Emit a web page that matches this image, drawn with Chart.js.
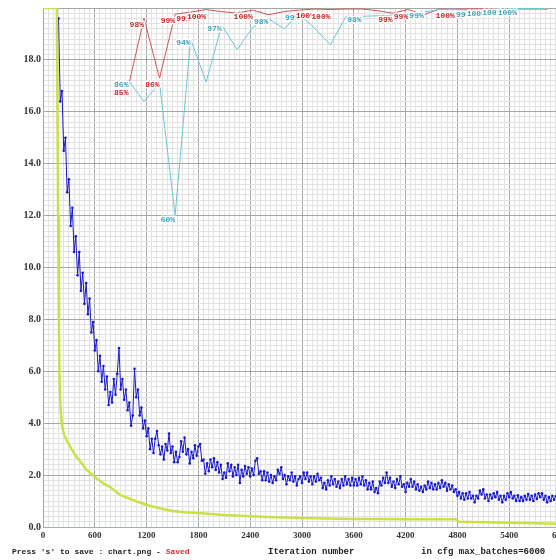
<!DOCTYPE html>
<html>
<head>
<meta charset="utf-8">
<script src="https://cdn.jsdelivr.net/npm/chart.js@4.4.1/dist/chart.umd.min.js"></script>
<style>
  html, body { margin: 0; padding: 0; background: #fff; overflow: hidden; }
  #wrap { width: 556px; height: 560px; overflow: hidden; }
</style>
</head>
<body>
<div id="wrap"><canvas id="chart" width="580" height="560"></canvas></div>
<script>
// loss, one value every 20 iterations from 180
const lossStart = 180;
const lossStep = 20;
const lossValues = [
  19.6, 16.4, 16.8, 14.5, 15.0, 12.9, 13.4, 11.6, 12.3, 10.6,
  11.2, 9.7, 10.6, 9.1, 9.8, 8.6, 9.4, 8.2, 8.8, 7.5,
  7.9, 6.8, 7.2, 6.0, 6.6, 5.6, 6.2, 5.3, 5.8, 4.7,
  5.2, 4.8, 5.7, 5.1, 5.9, 6.9, 5.3, 5.7, 4.9, 5.3,
  4.5, 4.8, 3.9, 4.3, 6.1, 5.0, 5.3, 4.3, 4.6, 3.8,
  4.1, 3.5, 3.8, 3.0, 3.4, 2.85, 3.4, 3.7, 3.15, 2.8,
  3.1, 2.6, 3.2, 2.95, 3.6, 2.85, 3.1, 2.5, 2.9, 2.5,
  2.7, 3.3, 2.9, 3.45, 2.8, 3.0, 2.45, 2.9, 2.65, 3.15,
  2.75, 3.1, 3.2, 2.55, 2.6, 2.05, 2.45, 2.15, 2.6, 2.3,
  2.65, 2.2, 2.5, 2.1, 2.4, 1.85, 2.1, 1.9, 2.45, 2.15,
  2.4, 1.95, 2.3, 2.0, 2.4, 1.7, 2.2, 1.95, 2.35, 2.05,
  2.3, 1.95, 2.25, 2.0, 2.55, 2.65, 2.05, 2.15, 1.8, 2.15,
  1.8, 2.1, 1.75, 2.0, 1.7, 1.95, 1.8, 2.2, 2.05, 2.3,
  1.85, 2.0, 1.65, 1.95, 1.8, 2.1, 1.75, 1.95, 1.6, 1.85,
  1.95, 1.7, 2.1, 1.85, 2.1, 1.75, 1.95, 1.65, 1.95, 1.75,
  2.05, 1.8, 1.9, 1.5, 1.7, 1.45, 1.8, 1.6, 1.95, 1.65,
  1.85, 1.55, 1.75, 1.5, 1.85, 1.6, 1.95, 1.65, 1.85, 1.6,
  1.9, 1.6, 1.85, 1.6, 1.9, 1.65, 1.95, 1.6, 1.8, 1.45,
  1.7, 1.45, 1.75, 1.35, 1.5, 1.3, 1.75, 1.6, 1.9, 1.7,
  2.1, 1.7, 1.9, 1.55, 1.75, 1.5, 1.85, 1.65, 1.95, 1.55,
  1.65, 1.35, 1.7, 1.55, 1.85, 1.55, 1.75, 1.45, 1.65, 1.4,
  1.55, 1.35, 1.6, 1.45, 1.75, 1.5, 1.7, 1.45, 1.65, 1.45,
  1.7, 1.5, 1.8, 1.55, 1.7, 1.4, 1.65, 1.45, 1.6, 1.35,
  1.45, 1.2, 1.35, 1.1, 1.3, 1.05, 1.3, 1.1, 1.35, 1.1,
  1.2, 0.95, 1.2, 1.1, 1.4, 1.25, 1.45, 1.1, 1.25, 1.0,
  1.25, 1.1, 1.3, 1.15, 1.35, 1.05, 1.2, 0.95, 1.2, 1.05,
  1.3, 1.15, 1.35, 1.1, 1.2, 1.0, 1.22, 1.0, 1.15, 1.0,
  1.2, 1.05, 1.27, 1.05, 1.2, 1.0, 1.25, 1.08, 1.3, 1.15,
  1.3, 1.05, 1.2, 0.95, 1.15, 1.0, 1.2, 1.05, 1.18, 1.02
];

// smoothed loss (yellow-green curve)
const avgIter = [0, 160, 175, 185, 192, 205, 220, 245, 273, 330, 389, 450, 504, 600, 700, 773, 888, 1042,
  1200, 1350, 1500, 1650, 1800, 2100, 2400, 2700, 3000, 3300, 3600, 3900, 4200, 4500, 4780, 4820, 5100, 5400, 5700, 6000];
const avgLoss = [20, 20, 12, 7.5, 5.6, 4.5, 3.9, 3.55, 3.35, 3.0, 2.7, 2.45, 2.2, 1.93, 1.68, 1.55, 1.25, 1.04,
  0.85, 0.72, 0.62, 0.57, 0.54, 0.46, 0.41, 0.38, 0.35, 0.33, 0.31, 0.31, 0.3, 0.3, 0.3, 0.2, 0.18, 0.16, 0.14, 0.13];

// accuracy checks (percent)
const mapIter = [990, 1170, 1350, 1530, 1710, 1890, 2070, 2250, 2430, 2610, 2790, 2970, 3150, 3330,
  3510, 3690, 3870, 4050, 4230, 4410, 4590, 4770, 4950, 5130, 5310, 5490, 5670, 5850];
const mapRed = [85, 98, 86.5, 98.8, 99.2, 99.7, 99.3, 99.0, 99.6, 98.7, 99.3, 99.6, 99.8, 99.7,
  99.8, 99.8, 99.5, 99.0, 99.7, 98.7, 99.8, 99.8, 99.8, 99.8, 99.8, 99.8, 99.8, 99.8];
const mapCyan = [86, 82, 85.5, 60, 94, 85.7, 96.7, 92, 96.3, 98, 96, 98.8, 96, 92.9,
  98.4, 98.4, 98.5, 98.6, 98.8, 99.2, 99.7, 99.8, 99.4, 99.7, 99.8, 99.9, 99.9, 99.9];
const redLabels = ["85%", "98%", "86%", "99%", "99%", "100%", "", "", "100%", "", "", "", "100%", "100%",
  "", "", "", "99%", "99%", "", "", "100%", "", "", "", "", "", ""];
const cyanLabels = ["86%", "", "", "60%", "94%", "", "97%", "", "", "98%", "", "99%", "", "",
  "", "98%", "", "", "", "99%", "", "", "99%", "100%", "100%", "100%", "", ""];

const xMajor = 600;
const yMajor = 2;

const lossPoints = lossValues.map((v, i) => ({ x: lossStart + i * lossStep, y: v }));
const avgPoints = avgIter.map((it, i) => ({ x: it, y: avgLoss[i] }));
const redPoints = mapIter.map((it, i) => ({ x: it, y: mapRed[i] }));
const cyanPoints = mapIter.map((it, i) => ({ x: it, y: mapCyan[i] }));

const labelPlugin = {
  id: 'darknetText',
  afterDatasetsDraw(chart) {
    const ctx = chart.ctx;
    const xs = chart.scales.x, ys = chart.scales.yMap;
    ctx.save();
    ctx.font = 'bold 8px "Liberation Mono"';
    ctx.textAlign = 'right';
    ctx.textBaseline = 'middle';
    ctx.lineWidth = 3;
    ctx.lineJoin = 'round';
    ctx.strokeStyle = '#ffffff';
    mapIter.forEach((it, i) => {
      [[redLabels[i], mapRed[i], '#c42424', 7], [cyanLabels[i], mapCyan[i], '#3a9fb8', 4]].forEach(([txt, v, col, dy]) => {
        if (!txt) return;
        const px = xs.getPixelForValue(it);
        const py = ys.getPixelForValue(v) + dy;
        ctx.strokeText(txt, px, py);
        ctx.fillStyle = col;
        ctx.fillText(txt, px, py);
      });
    });
    ctx.restore();
  },
  afterDraw(chart) {
    const ctx = chart.ctx;
    ctx.save();
    ctx.textBaseline = 'middle';
    ctx.textAlign = 'left';
    ctx.font = 'bold 8px "Liberation Mono"';
    ctx.fillStyle = '#222';
    const first = "Press 's' to save : chart.png - ";
    ctx.fillText(first, 12, 552);
    ctx.fillStyle = '#e03030';
    ctx.fillText('Saved', 12 + ctx.measureText(first).width, 552);
    ctx.font = 'bold 9px "Liberation Mono"';
    ctx.fillStyle = '#222';
    ctx.fillText('Iteration number', 268, 552);
    ctx.fillText('in cfg max_batches=6000', 421, 552);
    ctx.restore();
  }
};

new Chart(document.getElementById('chart'), {
  type: 'scatter',
  data: {
    datasets: [
      { label: 'cyan', data: cyanPoints, yAxisID: 'yMap', showLine: true, borderColor: '#6cc6d6', borderWidth: 1, pointRadius: 0 },
      { label: 'red', data: redPoints, yAxisID: 'yMap', showLine: true, borderColor: '#d05454', borderWidth: 1, pointRadius: 0 },
      { label: 'avg', data: avgPoints, yAxisID: 'y', showLine: true, borderColor: 'rgb(204, 224, 70)', borderWidth: 2.5, pointRadius: 0 },
      { label: 'loss', data: lossPoints, yAxisID: 'y', showLine: true, borderColor: 'rgb(24, 24, 204)', backgroundColor: 'rgb(24, 24, 204)', borderWidth: 1, pointRadius: 1.3, pointBorderWidth: 0 }
    ]
  },
  options: {
    responsive: false,
    animation: false,
    layout: { padding: { left: 0, right: 19, top: 8, bottom: 0 } },
    plugins: { legend: { display: false }, tooltip: { enabled: false } },
    scales: {
      x: {
        type: 'linear', min: 0, max: 6000,
        afterFit(scale) { scale.height = 33; },
        border: { color: '#9aaebb' },
        grid: {
          drawTicks: false,
          color: (c) => (c.tick && Math.round(c.tick.value) % xMajor === 0) ? '#a6a6a6' : '#e2e2e2'
        },
        ticks: {
          stepSize: 60, autoSkip: false, maxRotation: 0, padding: 3,
          color: '#333', font: { family: '"Liberation Serif"', size: 9, weight: 'bold' },
          callback: (v) => (Math.round(v) % xMajor === 0 ? String(Math.round(v)) : '')
        }
      },
      y: {
        min: 0, max: 20,
        afterFit(scale) { scale.width = 43; },
        border: { color: '#a6a6a6' },
        grid: {
          drawTicks: false,
          color: (c) => (c.tick && Math.round(c.tick.value * 10) % (yMajor * 10) === 0) ? '#a6a6a6' : '#e2e2e2'
        },
        ticks: {
          stepSize: 0.2, autoSkip: false, padding: 2,
          color: '#333', font: { family: '"Liberation Serif"', size: 10, weight: 'bold' },
          callback: (v) => (Math.round(v * 10) % (yMajor * 10) === 0 && v < 19.9 ? v.toFixed(1) : '')
        }
      },
      yMap: { min: 0, max: 100, display: false }
    }
  },
  plugins: [labelPlugin]
});
</script>
</body>
</html>
